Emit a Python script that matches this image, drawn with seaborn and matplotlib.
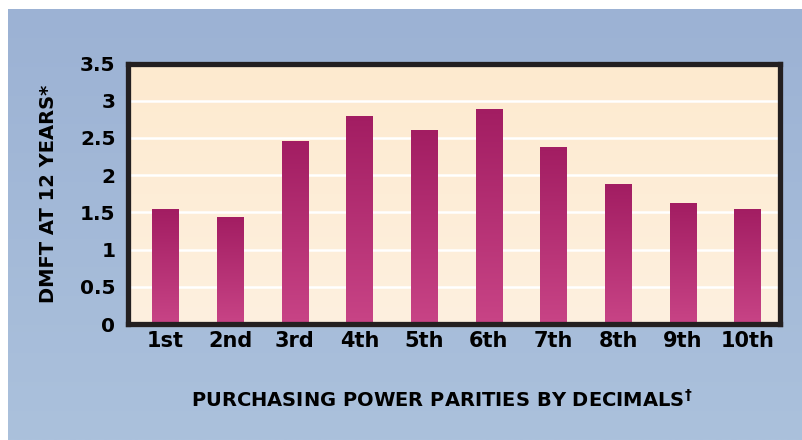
import numpy as np
import matplotlib
matplotlib.use("Agg")
import matplotlib.pyplot as plt
import matplotlib.colors as mcolors
import seaborn as sns

deciles = ["1st", "2nd", "3rd", "4th", "5th", "6th", "7th", "8th", "9th", "10th"]
dmft = [1.54, 1.44, 2.46, 2.80, 2.60, 2.89, 2.38, 1.88, 1.63, 1.55]
y_ticks = [0, 0.5, 1, 1.5, 2, 2.5, 3, 3.5]
y_tick_labels = ["0", "0.5", "1", "1.5", "2", "2.5", "3", "3.5"]

sns.set_theme(style="white")
plt.rcParams["font.family"] = ["DejaVu Sans"]
plt.rcParams["mathtext.default"] = "bf"

fig = plt.figure(figsize=(8.03, 4.40), dpi=100)
fig.patch.set_facecolor("white")

# blue gradient backdrop
bg = fig.add_axes([0, 0, 1, 1], zorder=-10)
bg_cmap = mcolors.LinearSegmentedColormap.from_list("bg", ["#abc1dc", "#9cb2d4"])
bg.imshow(np.linspace(0, 1, 256).reshape(-1, 1)[::-1], cmap=bg_cmap, aspect="auto",
          extent=(8 / 803, 1, 0, 1 - 10 / 440), origin="upper")
bg.set_xlim(0, 1)
bg.set_ylim(0, 1)
bg.axis("off")

ax = fig.add_axes([128 / 803, 1 - 324 / 440, 652 / 803, 260.5 / 440])
sns.barplot(x=deciles, y=dmft, width=0.41, ax=ax, color="#b02d6e", saturation=1)

xlim = (-0.58, len(deciles) - 0.5)
ax.set_ylim(0, 3.5)
ax.set_xlim(*xlim)

# cream gradient inside the plot area
cream = mcolors.LinearSegmentedColormap.from_list("cream", ["#fef0df", "#fdeacf"])
ax.imshow(np.linspace(0, 1, 256).reshape(-1, 1), cmap=cream, aspect="auto",
          extent=(xlim[0], xlim[1], 0, 3.5), origin="lower", zorder=0)

# gradient fill of bars
bar_cmap = mcolors.LinearSegmentedColormap.from_list("bar", ["#c84486", "#a21d62"])
for p in ax.patches:
    x0, w, h = p.get_x(), p.get_width(), p.get_height()
    im = ax.imshow(np.linspace(0, 1, 256).reshape(-1, 1), cmap=bar_cmap, aspect="auto",
                   extent=(x0, x0 + w, 0, h), origin="lower", zorder=3)
    im.set_clip_path(p)
    p.set_facecolor("none")
    p.set_edgecolor("none")
ax.set_xlim(*xlim)
ax.set_ylim(0, 3.5)

for yv in y_ticks[1:-1]:
    ax.axhline(yv, color="white", lw=1.8, zorder=1)

ax.set_yticks(y_ticks)
ax.set_yticklabels(y_tick_labels)
ax.tick_params(axis="both", length=0)
ax.tick_params(axis="y", pad=9, labelsize=14.5)
ax.tick_params(axis="x", pad=5, labelsize=15)
for lab in ax.get_xticklabels() + ax.get_yticklabels():
    lab.set_fontweight("bold")
    lab.set_color("black")

for s in ax.spines.values():
    s.set_visible(True)
    s.set_linewidth(3.8)
    s.set_color("#231f20")
    s.set_zorder(5)

ax.set_ylabel("DMFT AT 12 YEARS*", fontsize=14, fontweight="bold", color="black", labelpad=16)
ax.set_xlabel("")
fig.text(442 / 803, 1 - 400 / 440, r"PURCHASING POWER PARITIES BY DECIMALS$^{\dagger}$",
         fontsize=14, fontweight="bold", color="black", ha="center", va="center")

fig.savefig("out.png", dpi=100, facecolor=fig.get_facecolor())
